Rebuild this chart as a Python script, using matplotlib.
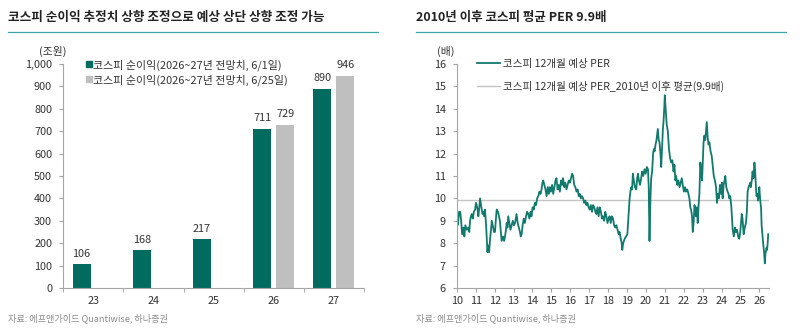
import matplotlib
matplotlib.use("Agg")
import matplotlib.pyplot as plt
from matplotlib.lines import Line2D

plt.rcParams['font.family'] = ['Noto Sans CJK KR', 'DejaVu Sans']

# left chart data
years = ["23", "24", "25", "26", "27"]
earn_0601 = [106, 168, 217, 711, 890]
earn_0625 = [None, None, None, 729, 946]

# right chart data (year fraction, PER)
per_x = [10.00, 10.04, 10.08, 10.12, 10.18, 10.23, 10.28, 10.35, 10.40, 10.45, 10.53,
         10.60, 10.66, 10.70, 10.75, 10.79, 10.85, 10.90, 10.97, 11.01, 11.05, 11.10,
         11.14, 11.19, 11.23, 11.30, 11.36, 11.41, 11.45, 11.49, 11.55, 11.62, 11.66,
         11.71, 11.76, 11.81, 11.85, 11.92, 11.97, 12.02, 12.06, 12.11, 12.18, 12.23,
         12.28, 12.33, 12.37, 12.45, 12.50, 12.55, 12.60, 12.64, 12.68, 12.72, 12.78,
         12.84, 12.90, 12.96, 13.02, 13.08, 13.12, 13.16, 13.22, 13.28, 13.34, 13.38,
         13.43, 13.48, 13.54, 13.60, 13.66, 13.72, 13.78, 13.84, 13.90, 13.95, 14.01,
         14.07, 14.13, 14.19, 14.25, 14.31, 14.37, 14.43, 14.48, 14.53, 14.57, 14.63,
         14.69, 14.75, 14.81, 14.87, 14.92, 14.98, 15.04, 15.10, 15.16, 15.22, 15.27,
         15.33, 15.39, 15.45, 15.51, 15.57, 15.62, 15.68, 15.74, 15.80, 15.86, 15.92,
         15.98, 16.04, 16.10, 16.15, 16.21, 16.27, 16.33, 16.39, 16.45, 16.50, 16.56,
         16.62, 16.68, 16.74, 16.80, 16.85, 16.91, 16.97, 17.03, 17.09, 17.15, 17.21,
         17.27, 17.33, 17.38, 17.44, 17.50, 17.56, 17.62, 17.68, 17.73, 17.79, 17.85,
         17.91, 17.97, 18.03, 18.08, 18.14, 18.20, 18.26, 18.32, 18.38, 18.44, 18.50,
         18.56, 18.61, 18.67, 18.72, 18.75, 18.80, 18.88, 18.95, 19.02, 19.08, 19.14,
         19.18, 19.23, 19.27, 19.31, 19.36, 19.42, 19.49, 19.54, 19.58, 19.63, 19.69,
         19.75, 19.80, 19.86, 19.93, 19.99, 20.05, 20.11, 20.15, 20.19, 20.24, 20.28,
         20.33, 20.38, 20.42, 20.46, 20.51, 20.56, 20.60, 20.63, 20.68, 20.72, 20.77,
         20.81, 20.86, 20.90, 20.93, 20.97, 21.00, 21.02, 21.06, 21.10, 21.16, 21.22,
         21.28, 21.34, 21.40, 21.46, 21.51, 21.56, 21.60, 21.66, 21.72, 21.78, 21.84,
         21.90, 21.95, 22.01, 22.07, 22.13, 22.19, 22.25, 22.30, 22.35, 22.39, 22.44,
         22.48, 22.53, 22.57, 22.61, 22.65, 22.70, 22.74, 22.78, 22.83, 22.88, 22.92,
         22.97, 23.01, 23.05, 23.09, 23.14, 23.18, 23.22, 23.27, 23.31, 23.36, 23.42,
         23.48, 23.53, 23.59, 23.65, 23.71, 23.76, 23.80, 23.86, 23.92, 23.97, 24.02,
         24.06, 24.11, 24.16, 24.20, 24.25, 24.32, 24.37, 24.41, 24.46, 24.52, 24.59,
         24.65, 24.71, 24.76, 24.82, 24.88, 24.94, 24.99, 25.03, 25.07, 25.11, 25.17,
         25.23, 25.29, 25.34, 25.38, 25.43, 25.48, 25.52, 25.55, 25.60, 25.64, 25.69,
         25.74, 25.78, 25.82, 25.85, 25.89, 25.93, 25.96, 26.00, 26.03, 26.06, 26.09,
         26.12, 26.16, 26.20, 26.25, 26.29, 26.32, 26.34, 26.38, 26.41, 26.44, 26.47]
per_y = [9.7, 8.8, 9.0, 9.4, 9.4, 9.0, 8.4, 8.7, 8.3, 8.8, 8.6,
         8.7, 8.5, 9.0, 9.2, 9.3, 9.1, 9.4, 9.5, 9.8, 9.7, 9.5,
         9.2, 9.6, 10.0, 9.6, 9.3, 9.4, 9.2, 9.5, 8.8, 7.6, 7.9,
         7.6, 8.2, 8.6, 9.0, 8.7, 8.5, 8.5, 9.0, 9.5, 9.4, 9.2,
         9.0, 8.5, 8.1, 8.3, 8.1, 8.3, 8.6, 8.9, 8.7, 9.2, 8.9,
         8.6, 8.8, 9.0, 8.8, 8.9, 9.1, 9.3, 8.9, 8.7, 8.5, 8.3,
         8.4, 8.8, 9.1, 8.9, 9.2, 9.4, 9.3, 9.1, 9.4, 9.2, 9.6,
         9.5, 9.8, 9.7, 10.0, 10.1, 10.3, 10.2, 10.4, 10.7, 10.8, 10.6,
         10.4, 10.1, 10.5, 10.2, 10.5, 10.3, 10.6, 10.2, 10.5, 10.8, 10.9,
         10.4, 10.6, 10.3, 10.8, 10.6, 10.9, 10.5, 10.7, 10.4, 10.6, 10.8,
         10.7, 10.9, 11.1, 11.0, 10.6, 10.5, 10.3, 10.4, 10.1, 10.2, 10.0,
         10.1, 10.0, 9.8, 9.9, 9.7, 9.8, 9.6, 9.5, 9.7, 9.4, 9.7,
         9.6, 9.4, 9.3, 9.6, 9.2, 9.6, 9.4, 9.1, 9.2, 9.0, 9.4,
         9.2, 8.9, 9.1, 9.2, 8.9, 9.2, 9.1, 8.8, 8.7, 8.8, 8.6,
         8.4, 8.5, 8.2, 8.0, 7.7, 8.0, 8.2, 8.3, 8.4, 9.2, 10.0,
         10.3, 10.5, 10.4, 11.1, 10.8, 10.5, 10.4, 10.9, 11.1, 10.8, 10.6,
         10.9, 11.2, 11.0, 11.3, 11.1, 11.4, 11.3, 10.5, 8.1, 10.0, 10.9,
         11.2, 12.0, 12.2, 12.1, 12.4, 12.6, 12.9, 13.1, 12.6, 12.5, 12.0,
         11.4, 12.3, 13.1, 13.4, 14.0, 14.6, 14.3, 13.8, 13.3, 13.0, 12.2,
         11.8, 11.6, 11.7, 11.2, 11.5, 10.8, 11.0, 10.6, 10.8, 10.5, 10.7,
         10.9, 10.6, 10.3, 10.5, 10.3, 10.4, 10.2, 10.0, 9.6, 9.5, 9.2,
         8.5, 9.0, 9.7, 9.5, 9.2, 9.6, 8.9, 9.6, 10.2, 11.6, 11.2,
         10.8, 11.7, 12.5, 12.8, 12.6, 13.0, 13.4, 12.7, 12.4, 12.5, 12.1,
         11.9, 11.5, 11.0, 10.8, 10.5, 9.8, 10.2, 10.0, 10.6, 10.2, 10.7,
         10.0, 10.6, 10.8, 11.0, 10.5, 10.3, 10.2, 10.0, 10.1, 9.6, 8.6,
         8.3, 8.7, 8.5, 8.6, 8.3, 8.2, 8.5, 8.9, 9.3, 9.1, 8.4,
         8.7, 8.9, 9.4, 10.3, 10.5, 10.6, 10.7, 10.5, 10.8, 11.2, 10.9,
         11.6, 11.2, 10.5, 10.1, 10.2, 9.9, 10.2, 10.5, 10.1, 9.8, 9.6,
         8.8, 8.4, 8.0, 7.6, 7.1, 7.5, 7.6, 7.8, 7.7, 8.0, 8.4]
per_avg = 9.93

green = "#006b5e"
grey = "#bfbfbf"
teal_rule = "#3aa9a5"
axis_col = "#a6a6a6"
txt = "#333333"
line_col = "#127a6c"

fig = plt.figure(figsize=(8, 3.32), dpi=100)

# titles and rules
fig.text(0.01, 0.948, "코스피 순이익 추정치 상향 조정으로 예상 상단 상향 조정 가능",
         fontsize=9.1, fontweight="bold", color="#222222", va="center")
fig.text(0.52, 0.948, "2010년 이후 코스피 평균 PER 9.9배",
         fontsize=9.0, fontweight="bold", color="#222222", va="center")
fig.add_artist(Line2D([0.01, 0.472], [0.903, 0.903], color=teal_rule, lw=0.9))
fig.add_artist(Line2D([0.52, 0.982], [0.903, 0.903], color=teal_rule, lw=0.9))
fig.text(0.01, 0.032, "자료: 에프앤가이드 Quantiwise, 하나증권", fontsize=6.6, color="#8c8c8c")
fig.text(0.52, 0.032, "자료: 에프앤가이드 Quantiwise, 하나증권", fontsize=6.6, color="#8c8c8c")

# left: bar chart
ax = fig.add_axes([0.079, 0.1325, 0.376, 0.675])
pos = range(len(years))
w = 0.3
for i in pos:
    ax.bar(i - 0.195, earn_0601[i], width=w, color=green)
    ax.text(i - 0.195, earn_0601[i] + 25, str(earn_0601[i]), ha="center", va="bottom",
            fontsize=7.8, color=txt)
    if earn_0625[i] is not None:
        ax.bar(i + 0.19, earn_0625[i], width=w, color=grey)
        ax.text(i + 0.19, earn_0625[i] + 25, str(earn_0625[i]), ha="center", va="bottom",
                fontsize=7.8, color=txt)
ax.set_xlim(-0.5, 4.5)
ax.set_ylim(0, 1000)
ax.set_yticks(range(0, 1001, 100))
ax.set_yticklabels([f"{v:,}" for v in range(0, 1001, 100)])
ax.set_xticks(list(pos))
ax.set_xticklabels(years)
ax.set_xticks([-0.5, 0.5, 1.5, 2.5, 3.5, 4.5], minor=True)
ax.tick_params(axis="x", which="major", length=0, pad=6, labelsize=7.8, labelcolor=txt)
ax.tick_params(axis="x", which="minor", length=3, color=axis_col)
ax.tick_params(axis="y", length=3, color=axis_col, labelsize=7.8, labelcolor=txt, pad=5)
for s in ["top", "right"]:
    ax.spines[s].set_visible(False)
for s in ["left", "bottom"]:
    ax.spines[s].set_color(axis_col)
    ax.spines[s].set_linewidth(0.8)
fig.text(0.066, 0.835, "(조원)", fontsize=7.8, color=txt, ha="center")
h1 = Line2D([], [], marker="s", ls="none", color=green, markersize=5)
h2 = Line2D([], [], marker="s", ls="none", color=grey, markersize=5)
ax.legend([h1, h2], ["코스피 순이익(2026~27년 전망치, 6/1일)", "코스피 순이익(2026~27년 전망치, 6/25일)"],
          loc="upper left", bbox_to_anchor=(0.055, 1.04), frameon=False, fontsize=7.9,
          handletextpad=0.0, labelspacing=0.3, borderaxespad=0, handlelength=0.8,
          labelcolor=txt)

# right: PER line
ax2 = fig.add_axes([0.571, 0.1325, 0.39, 0.675])
ax2.axhline(per_avg, color="#c4c4c4", lw=1.0)
ax2.plot(per_x, per_y, color=line_col, lw=1.3)
ax2.set_xlim(10, 26.5)
ax2.set_ylim(6, 16)
ax2.set_xticks(range(10, 27))
ax2.set_xticklabels([str(v) for v in range(10, 27)])
ax2.set_yticks(range(6, 17))
ax2.tick_params(axis="x", length=3, color=axis_col, labelsize=7.8, labelcolor=txt, pad=3)
ax2.tick_params(axis="y", length=3, color=axis_col, labelsize=7.8, labelcolor=txt, pad=5)
for s in ["top", "right"]:
    ax2.spines[s].set_visible(False)
for s in ["left", "bottom"]:
    ax2.spines[s].set_color(axis_col)
    ax2.spines[s].set_linewidth(0.8)
fig.text(0.557, 0.835, "(배)", fontsize=7.8, color=txt, ha="center")
l1 = Line2D([], [], color=line_col, lw=1.3)
l2 = Line2D([], [], color="#c4c4c4", lw=1.0)
ax2.legend([l1, l2], ["코스피 12개월 예상 PER", "코스피 12개월 예상 PER_2010년 이후 평균(9.9배)"],
           loc="upper left", bbox_to_anchor=(0.05, 1.04), frameon=False, fontsize=7.6,
           handletextpad=0.3, labelspacing=1.1, borderaxespad=0, handlelength=2.2,
           labelcolor=txt)

fig.savefig("out.png", dpi=100)
